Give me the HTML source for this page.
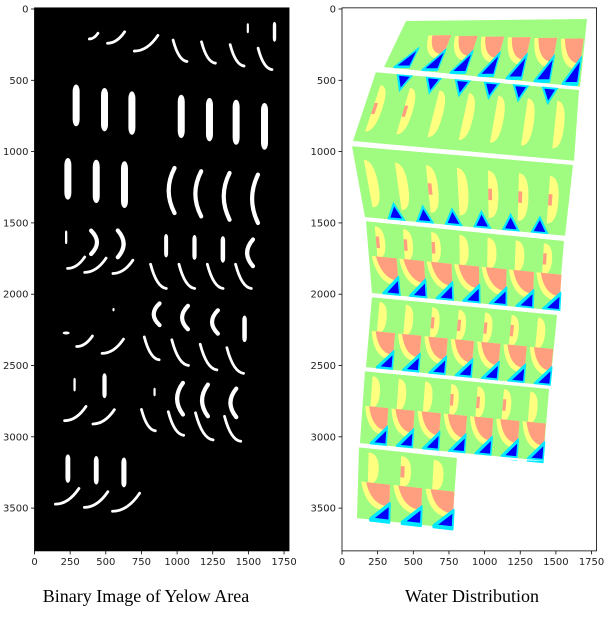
<!DOCTYPE html>
<html><head><meta charset="utf-8">
<style>
html,body{margin:0;padding:0;background:#fff;width:611px;height:623px;overflow:hidden}
svg{display:block}
.t{font-family:"DejaVu Sans","Liberation Sans",sans-serif;font-size:10px;fill:#222}
.cap{font-family:"Liberation Serif",serif;font-size:18px;fill:#000}
</style></head>
<body>
<svg id="fig" width="611" height="623" viewBox="0 0 611 623">
<g id="left"></g>
<g id="right"></g>
<text class="cap" x="146" y="602" text-anchor="middle">Binary Image of Yelow Area</text>
<text class="cap" x="472" y="602" text-anchor="middle">Water Distribution</text>
</svg>
<script>
// ---- data (image units) ----
var xTicks=[0,250,500,750,1000,1250,1500,1750];
var yTicks=[0,500,1000,1500,2000,2500,3000,3500];
var extentX=1785, extentY=3800;
// left panel: white blobs
var blobX=[415,572,783,1017,1216,1417,1613,1496,1683,
 292,491,683,1029,1227,1414,1613,
 234,433,631,970,1157,1356,1555,
 222,409,596,292,427,620,923,1122,1321,1520,865,1064,1263,1461,
 554,222,351,549,865,1064,1274,1473,818,1017,1216,1403,
 281,491,842,1029,1204,1403,286,485,795,988,1186,1385,
 234,433,627,229,432,642];
var blobY=[190,200,240,293,305,325,350,135,160,
 676,706,730,753,776,794,823,
 1191,1209,1232,1273,1296,1314,1331,
 1601,1636,1647,1779,1797,1808,1660,1672,1686,1710,1875,1875,1875,1875,
 2108,2272,2330,2365,2141,2164,2195,2243,2380,2410,2441,2465,
 2634,2642,2686,2733,2745,2762,2837,2860,2883,2907,2927,2944,
 3223,3235,3250,3417,3440,3459];
var blobLen=[60,120,165,150,150,150,150,70,140,
 293,304,304,304,304,316,328,
 292,304,328,316,316,328,339,
 95,164,188,120,150,140,164,175,187,187,170,170,170,170,
 25,30,110,150,152,164,164,187,160,180,180,180,
 95,175,60,222,222,200,150,150,150,165,190,175,
 200,200,210,165,165,190];
var blobKind=['sa','sa','sa','sd','sd','sd','sd','v','v',
 'v','v','v','v','v','v','v',
 'v','v','v','c','c','c','c',
 'v','r','r','sa','sa','sa','v','v','v','c','sd','sd','sd','sd',
 'v','h','sa','sa','c','c','c','v','sd','sd','sd','sd',
 'v','v','v','c','c','c','sa','sa','sd','sd','sd','sd',
 'v','v','v','sa','sa','sa'];
// right panel: band corners [TLx,TLy,TRx,TRy,BRx,BRy,BLx,BLy]
var bands=[[449,84,1718,70,1669,547,295,407],
 [238,442,1662,568,1627,1066,77,926],
 [70,961,1620,1094,1564,1592,161,1459],
 [168,1487,1557,1627,1515,2118,210,1992],
 [210,2020,1508,2146,1459,2644,168,2511],
 [161,2539,1452,2665,1410,3170,126,3044],
 [119,3072,806,3149,771,3640,105,3570]];
var bandCols=[7,7,7,7,7,7,3];
var bandType=['bowl','bar','bar','both','both','both','both'];
var salmonTop=[[0,0,0,0,0,0,0],[1,1,0,0,0,0,0],[0,0,1,0,1,1,1],[1,1,1,0,0,0,1],[0,0,1,1,1,1,0],[0,0,0,1,1,1,0],[0,1,0]];

// ---- axes ----
var S=0.1426;
function LX(d){return 34.5+d*S}
function RX(d){return 342+d*S}
function Y(d){return 9+d*S}
var NS='http://www.w3.org/2000/svg';
function mk(tag,attrs,parent){var e=document.createElementNS(NS,tag);for(var k in attrs)e.setAttribute(k,attrs[k]);parent.appendChild(e);return e;}

function drawAxes(g,X,x0,name){
  var x1=X(extentX), y0=Y(-8), y1=Y(extentY);
  for(var i=0;i<xTicks.length;i++){
    var tx=X(xTicks[i]);
    var l=mk('line',{x1:tx,x2:tx,y1:y1,y2:y1+3.5,stroke:'#000','stroke-width':0.8},g);
    
    
    var t=mk('text',{x:tx,y:y1+14,'text-anchor':'middle','class':'t'},g);
    t.textContent=xTicks[i];
    
    
  }
  for(var j=0;j<yTicks.length;j++){
    var ty=Y(yTicks[j]);
    var l2=mk('line',{x1:x0-3.5,x2:x0,y1:ty,y2:ty,stroke:'#000','stroke-width':0.8},g);
    
    
    var t2=mk('text',{x:x0-6,y:ty+3.5,'text-anchor':'end','class':'t'},g);
    t2.textContent=yTicks[j];
    
    
  }
  var f=mk('rect',{x:x0,y:y0,width:x1-x0,height:y1-y0,fill:'none',stroke:'#000','stroke-width':0.8},g);
  
  
}

// ---- left panel ----
var L=document.getElementById('left');
var bg=mk('rect',{x:LX(0),y:Y(-8),width:LX(extentX)-LX(0),height:Y(extentY)-Y(-8),fill:'#000'},L);


for(var i=0;i<blobX.length;i++){
  var x=blobX[i],y=blobY[i],n=blobLen[i],k=blobKind[i],e;
  if(k==='v'){
    var w=Math.max(2.2,Math.min(7,n*S*0.17));
    e=mk('rect',{x:LX(x)-w/2,y:Y(y-n/2),width:w,height:n*S,rx:w/2,ry:Math.min(w,n*S/2),fill:'#fff'},L);
  }else if(k==='h'){
    e=mk('ellipse',{cx:LX(x),cy:Y(y),rx:3.5,ry:1.5,fill:'#fff'},L);
  }else if(k==='c'||k==='r'){
    var s=(k==='c')?-1:1;
    var d='M'+LX(x+12*-s)+' '+Y(y-n/2)+' Q'+LX(x+s*70)+' '+Y(y)+' '+LX(x+12*-s)+' '+Y(y+n/2);
    e=mk('path',{d:d,fill:'none',stroke:'#fff','stroke-width':4.2,'stroke-linecap':'round'},L);
  }else if(k==='sd'){
    var d2='M'+LX(x-n*0.3)+' '+Y(y-n/2)+' Q'+LX(x-n*0.05)+' '+Y(y+n*0.45)+' '+LX(x+n*0.35)+' '+Y(y+n/2);
    e=mk('path',{d:d2,fill:'none',stroke:'#fff','stroke-width':2.8,'stroke-linecap':'round'},L);
  }else{
    var d3='M'+LX(x-n/2)+' '+Y(y+n/3)+' Q'+LX(x+n*0.05)+' '+Y(y+n/3)+' '+LX(x+n/2)+' '+Y(y-n/3);
    e=mk('path',{d:d3,fill:'none',stroke:'#fff','stroke-width':2.8,'stroke-linecap':'round'},L);
  }
  
  
}
drawAxes(L,LX,LX(0),'left-axes');

// ---- right panel ----
var R=document.getElementById('right');
var G='#a0fc80',YE='#ffff80',SA='#ff9f80',BL='#0000ff',CY='#00e8ff';
function lerp(a,b,t){return [a[0]+(b[0]-a[0])*t,a[1]+(b[1]-a[1])*t];}
for(var b=0;b<bands.length;b++){
  var q=bands[b];
  var TL=[RX(q[0]),Y(q[1])],TR=[RX(q[2]),Y(q[3])],BR=[RX(q[4]),Y(q[5])],BLc=[RX(q[6]),Y(q[7])];
  var bandG=mk('g',{},R);
  
  
  var poly=mk('polygon',{points:TL+' '+TR+' '+BR+' '+BLc,fill:G},bandG);
  
  
  var nc=bandCols[b];
  for(var c=0;c<nc;c++){
    var a0=lerp(TL,TR,c/nc),a1=lerp(TL,TR,(c+1)/nc),b0=lerp(BLc,BR,c/nc);
    var ux=a1[0]-a0[0],uy=a1[1]-a0[1],vx=b0[0]-a0[0],vy=b0[1]-a0[1];
    var tg=mk('g',{transform:'matrix('+ux+' '+uy+' '+vx+' '+vy+' '+a0[0]+' '+a0[1]+')'},bandG);
    
    
    var t=bandType[b], sal=salmonTop[b][c];
    function bar(v0,v1){
      var y1=mk('path',{d:'M0.3 '+v0+' Q0.62 '+v0+' 0.62 '+((v0+v1)/2)+' Q0.62 '+v1+' 0.3 '+v1+' Z',fill:YE},tg);
      
      
      if(sal){
        var s1=mk('rect',{x:0.3,y:(v0+v1)/2-0.08,width:0.12,height:0.16,fill:SA},tg);
        
        
      }
    }
    function bowl(a,h){
      var y2=mk('path',{d:'M0.1 '+a+' L0.98 '+a+' L0.98 '+(a+h*0.95)+' Q0.25 '+(a+h)+' 0.1 '+a+' Z',fill:YE},tg);
      
      
      var s2=mk('path',{d:'M0.25 '+a+' L0.98 '+a+' L0.98 '+(a+h*0.78)+' Q0.42 '+(a+h*0.78)+' 0.25 '+a+' Z',fill:SA},tg);
      
      
    }
    function blue(v){
      var p=mk('path',{d:'M0.4 1 L0.99 '+v+' L0.99 1 Z',fill:BL,stroke:CY,'stroke-width':0.06,'stroke-linejoin':'round'},tg);
      
      
    }
    if(t==='bowl'){ if(c>0) bowl(0.3,0.5); blue(0.6); }
    else if(t==='bar'){
      bar(0.18,0.85);
      if(c<nc-1){
        var d1=mk('path',{d:(b===1?'M0.75 0 L1 0.22 L1.25 0 Z':'M0.75 1 L1 0.78 L1.25 1 Z'),fill:BL,stroke:CY,'stroke-width':0.05},tg);
        
        
      }
    }
    else { bar(0.06,0.5); bowl(0.48,0.4); blue(0.75); }
  }
}
// white gaps between bands
for(var b2=0;b2<bands.length-1;b2++){
  var A=bands[b2],B=bands[b2+1];
  var gp=mk('polygon',{points:RX(A[6]-20)+','+Y(A[7])+' '+RX(A[4]+20)+','+Y(A[5])+' '+RX(B[2]+20)+','+Y(B[3])+' '+RX(B[0]-20)+','+Y(B[1]),fill:'#fff'},R);
  
  
}
drawAxes(R,RX,RX(0),'right-axes');
</script>
</body></html>
